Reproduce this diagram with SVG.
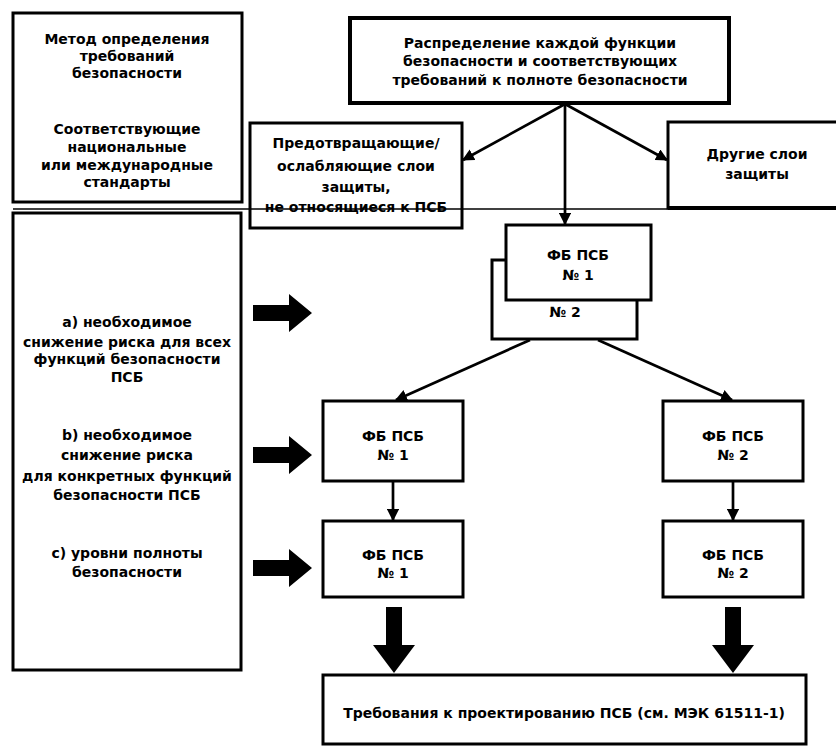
<svg xmlns="http://www.w3.org/2000/svg" width="836" height="747" viewBox="0 0 836 747">
<style>
.box{fill:#fff;stroke:#000;stroke-width:3}
.thick{fill:#fff;stroke:#000;stroke-width:4}
.t{font-family:"DejaVu Sans","Liberation Sans",sans-serif;font-weight:bold;font-size:14px;text-anchor:middle;fill:#000}
.ln{stroke:#000;stroke-width:2.7;fill:none;marker-end:url(#ah)}
.big{fill:#000}
</style>
<defs>
<marker id="ah" viewBox="0 0 10 10" refX="9" refY="5" markerWidth="4.5" markerHeight="4.5" orient="auto" markerUnits="strokeWidth">
<path d="M0,0 L10,5 L0,10 z" fill="#000"/>
</marker>
</defs>
<rect width="836" height="747" fill="#fff"/>

<g id="method">
<rect class="box" x="13" y="13" width="229" height="189"/>
<text class="t" x="127" y="44">Метод определения</text>
<text class="t" x="127" y="61">требований</text>
<text class="t" x="127" y="78">безопасности</text>
<text class="t" x="127" y="134">Соответствующие</text>
<text class="t" x="127" y="152">национальные</text>
<text class="t" x="127" y="170">или международные</text>
<text class="t" x="127" y="187">стандарты</text>
</g>

<g id="levels">
<rect class="box" x="13" y="213" width="228" height="457"/>
<text class="t" x="127" y="327">а) необходимое</text>
<text class="t" x="127" y="347">снижение риска для всех</text>
<text class="t" x="127" y="364">функций безопасности</text>
<text class="t" x="127" y="382">ПСБ</text>
<text class="t" x="127" y="440">b) необходимое</text>
<text class="t" x="127" y="460">снижение риска</text>
<text class="t" x="127" y="481">для конкретных функций</text>
<text class="t" x="127" y="500">безопасности ПСБ</text>
<text class="t" x="127" y="558">с) уровни полноты</text>
<text class="t" x="127" y="577">безопасности</text>
</g>

<g id="allocation">
<rect class="thick" x="350" y="18" width="379" height="85"/>
<text class="t" x="540" y="48">Распределение каждой функции</text>
<text class="t" x="540" y="66">безопасности и соответствующих</text>
<text class="t" x="540" y="85">требований к полноте безопасности</text>
</g>

<g id="preventing">
<rect class="box" x="250" y="123" width="212" height="105"/>
<text class="t" x="356" y="148">Предотвращающие/</text>
<text class="t" x="356" y="171">ослабляющие слои</text>
<text class="t" x="356" y="192">защиты,</text>
<text class="t" x="356" y="212">не относящиеся к ПСБ</text>
</g>

<g id="other">
<rect class="box" x="668" y="122" width="180" height="86"/>
<line x1="668" y1="208" x2="836" y2="208" stroke="#000" stroke-width="4"/>
<text class="t" x="757" y="159">Другие слои</text>
<text class="t" x="757" y="179">защиты</text>
</g>

<line id="separator" x1="13" y1="209" x2="836" y2="209" stroke="#000" stroke-width="1.5"/>

<g id="sif-stack">
<rect class="box" x="492" y="260" width="145" height="79"/>
<text class="t" x="565" y="317">№ 2</text>
<rect class="box" x="506" y="225" width="145" height="75"/>
<text class="t" x="578" y="260">ФБ ПСБ</text>
<text class="t" x="578" y="280">№ 1</text>
</g>

<g id="sif1-b">
<rect class="box" x="323" y="401" width="140" height="80"/>
<text class="t" x="393" y="441">ФБ ПСБ</text>
<text class="t" x="393" y="460">№ 1</text>
</g>
<g id="sif2-b">
<rect class="box" x="663" y="401" width="140" height="80"/>
<text class="t" x="733" y="441">ФБ ПСБ</text>
<text class="t" x="733" y="460">№ 2</text>
</g>
<g id="sif1-c">
<rect class="box" x="323" y="521" width="140" height="76"/>
<text class="t" x="393" y="560">ФБ ПСБ</text>
<text class="t" x="393" y="578">№ 1</text>
</g>
<g id="sif2-c">
<rect class="box" x="663" y="521" width="140" height="76"/>
<text class="t" x="733" y="560">ФБ ПСБ</text>
<text class="t" x="733" y="578">№ 2</text>
</g>

<g id="design">
<rect class="box" x="323" y="675" width="483" height="69"/>
<text class="t" x="564" y="718">Требования к проектированию ПСБ (см. МЭК 61511-1)</text>
</g>

<g id="connectors">
<line class="ln" x1="565" y1="104" x2="463" y2="160"/>
<line class="ln" x1="565" y1="104" x2="565" y2="224"/>
<line class="ln" x1="565" y1="104" x2="667" y2="160"/>
<line class="ln" x1="530" y1="340" x2="396" y2="400"/>
<line class="ln" x1="598" y1="340" x2="732" y2="400"/>
<line class="ln" x1="393" y1="482" x2="393" y2="520"/>
<line class="ln" x1="733" y1="482" x2="733" y2="520"/>
<path class="big" d="M253,305 H289 V294 L312,313 L289,332 V321 H253 z"/>
<path class="big" d="M253,447 H289 V436 L312,455 L289,474 V463 H253 z"/>
<path class="big" d="M253,560 H289 V549 L312,568 L289,587 V576 H253 z"/>
<path class="big" d="M386,607 V645 H373 L394,673 L415,645 H402 V607 z"/>
<path class="big" d="M725,607 V645 H712 L733,673 L754,645 H741 V607 z"/>
</g>
</svg>
